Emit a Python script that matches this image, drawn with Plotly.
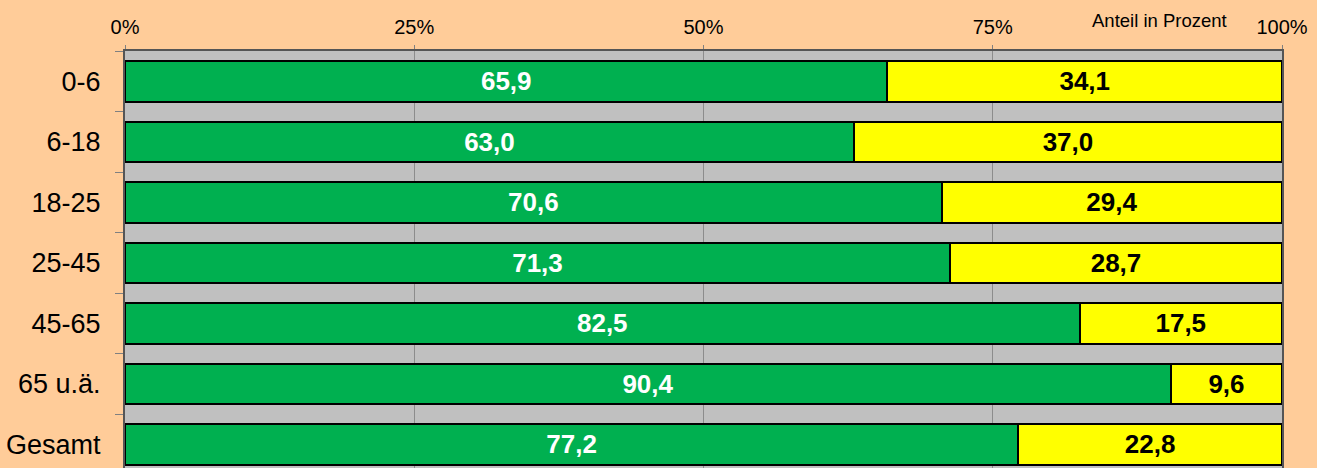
import plotly.graph_objects as go

# Age groups and shares (percent)
age_groups = ['0-6', '6-18', '18-25', '25-45', '45-65', '65 u.ä.', 'Gesamt']
share_green = [65.9, 63.0, 70.6, 71.3, 82.5, 90.4, 77.2]
share_yellow = [34.1, 37.0, 29.4, 28.7, 17.5, 9.6, 22.8]

x_ticks = [0, 25, 50, 75, 100]
x_tick_labels = ['0%', '25%', '50%', '75%', '100%']

fig = go.Figure()

# Green part of each bar
fig.add_trace(go.Bar(
    y=age_groups, x=share_green, orientation='h',
    marker=dict(color='#00B050', line=dict(color='black', width=2)),
    texttemplate='%{x:.1f}', textposition='inside', insidetextanchor='middle',
    textfont=dict(color='white', size=26, family='Liberation Sans', weight='bold'),
    hoverinfo='skip'))

# Yellow remainder
fig.add_trace(go.Bar(
    y=age_groups, x=share_yellow, orientation='h',
    marker=dict(color='#FFFF00', line=dict(color='black', width=2)),
    texttemplate='%{x:.1f}', textposition='inside', insidetextanchor='middle',
    textfont=dict(color='black', size=26, family='Liberation Sans', weight='bold'),
    hoverinfo='skip'))

fig.update_layout(
    barmode='stack', bargap=0.33, showlegend=False,
    width=1317, height=468,
    margin=dict(l=125, r=35, t=51, b=0),
    paper_bgcolor='#FFCC99', plot_bgcolor='#C0C0C0',
    separators=',.',
    font=dict(family='Liberation Sans', color='black'),
    uniformtext=dict(minsize=10, mode='show'))

fig.update_xaxes(
    side='top', range=[0, 100], tickvals=x_ticks, ticktext=x_tick_labels,
    tickfont=dict(size=20), showgrid=True, gridcolor='#8C8C8C', gridwidth=1,
    ticks='outside', ticklen=4, tickcolor='#808080',
    showline=True, linecolor='#555555', linewidth=2, zeroline=False,
    ticklabelstandoff=3, automargin=False)

fig.update_yaxes(
    categoryorder='array', categoryarray=age_groups,
    range=[6.39, -0.5], tickfont=dict(size=27),
    ticks='outside', tickson='boundaries', ticklen=8, tickcolor='#808080',
    showgrid=False, showline=True, linecolor='#555555', linewidth=2,
    mirror=True, ticklabelstandoff=17, automargin=False)

# Axis caption at upper right
fig.add_annotation(
    text='Anteil in Prozent', xref='x', yref='paper',
    x=(1159 - 125) / (1282 - 125) * 100, y=1 + (51 - 20) / 417,
    xanchor='center', yanchor='middle', showarrow=False,
    font=dict(size=18.5, color='black'))

# drop the default page margin so the figure sits at the window corner
fig.write_html("out.html", config={'displayModeBar': False},
               post_script="document.body.style.margin='0';")
